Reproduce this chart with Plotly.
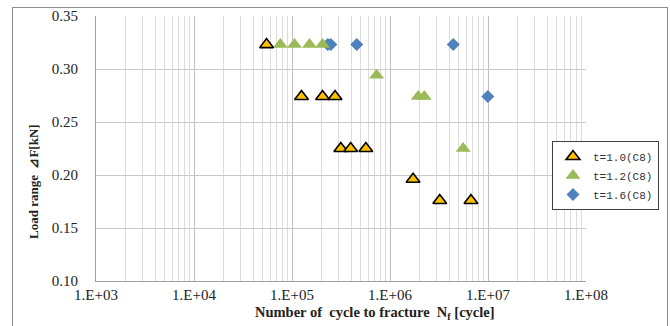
import plotly.graph_objects as go

# Data
s1_name = "t=1.0(C8)"
s1_x = [5.5e4, 1.25e5, 2.05e5, 2.75e5, 3.15e5, 3.97e5, 5.67e5, 1.72e6, 3.22e6, 6.7e6]
s1_y = [0.323, 0.274, 0.274, 0.274, 0.225, 0.225, 0.225, 0.196, 0.176, 0.176]

s2_name = "t=1.2(C8)"
s2_x = [7.6e4, 1.06e5, 1.51e5, 2.05e5, 7.3e5, 1.94e6, 2.24e6, 5.58e6]
s2_y = [0.323, 0.323, 0.323, 0.323, 0.294, 0.274, 0.274, 0.225]

s3_name = "t=1.6(C8)"
s3_x = [2.32e5, 2.49e5, 4.58e5, 4.42e6, 9.95e6]
s3_y = [0.323, 0.323, 0.323, 0.323, 0.274]

x_tickvals = [1e3, 1e4, 1e5, 1e6, 1e7, 1e8]
x_ticktext = ["1.E+03", "1.E+04", "1.E+05", "1.E+06", "1.E+07", "1.E+08"]
y_tickvals = [0.10, 0.15, 0.20, 0.25, 0.30, 0.35]
y_ticktext = ["0.10", "0.15", "0.20", "0.25", "0.30", "0.35"]

x_title = "<b>Number of  cycle to fracture  N<sub>f</sub> [cycle]</b>"
y_title = "<b>Load range  ⊿F[kN]</b>"

fig = go.Figure()
fig.add_trace(go.Scatter(x=s3_x, y=s3_y, mode="markers", name=s3_name,
                         marker=dict(symbol="diamond", size=10, color="#4F81BD",
                                     line=dict(width=0))))
fig.add_trace(go.Scatter(x=s2_x, y=s2_y, mode="markers", name=s2_name,
                         marker=dict(symbol="triangle-up", size=13, color="#9BBB59",
                                     line=dict(width=0))))
fig.add_trace(go.Scatter(x=s1_x, y=s1_y, mode="markers", name=s1_name,
                         marker=dict(symbol="triangle-up", size=12, color="#FFC000",
                                     line=dict(width=1.6, color="#000000"))))

serif = "Liberation Serif, DejaVu Serif, serif"
tick_font = dict(family=serif, size=15, color="#222222")

# plot area in pixels: left 96, right 586, top 16, bottom 281
PW, PH = 490, 265

fig.update_layout(
    width=670, height=326,
    margin=dict(l=96, r=84, t=16, b=45, autoexpand=False),
    paper_bgcolor="white", plot_bgcolor="white",
    showlegend=True,
    legend=dict(x=(552 - 96) / PW, y=1 - (141 - 16) / PH, xanchor="left", yanchor="top",
                traceorder="reversed",
                bordercolor="#404040", borderwidth=1, bgcolor="white",
                font=dict(family="Liberation Mono, DejaVu Sans Mono, monospace", size=11, color="#333333"),
                itemwidth=30, tracegroupgap=0, itemsizing="trace"),
    xaxis=dict(type="log", range=[3, 8], tickvals=x_tickvals, ticktext=x_ticktext,
               tickfont=tick_font, showgrid=True, gridcolor="#c0c0c0", gridwidth=1,
               minor=dict(showgrid=True, gridcolor="#dcdcdc", gridwidth=1, dtick="D1", ticks=""),
               showline=True, linecolor="#a0a0a0", linewidth=1, ticks="", zeroline=False),
    yaxis=dict(range=[0.10, 0.35], tickvals=y_tickvals, ticktext=y_ticktext,
               tickfont=tick_font, showgrid=True, gridcolor="#c8c8c8", gridwidth=1,
               showline=True, linecolor="#a0a0a0", linewidth=1, ticks="", zeroline=False,
               ticklabelstandoff=14),
    annotations=[
        dict(text=x_title, xref="paper", yref="paper",
             x=(375 - 96) / PW, y=(281 - 313) / PH, xanchor="center", yanchor="middle",
             showarrow=False, font=dict(family=serif, size=14.5, color="#222222")),
        dict(text=y_title, xref="paper", yref="paper", textangle=-90,
             x=(33 - 96) / PW, y=(281 - 182) / PH, xanchor="center", yanchor="middle",
             showarrow=False, font=dict(family=serif, size=13, color="#222222")),
    ],
)

post = (
    "document.body.style.margin='0';document.body.style.overflow='hidden';"
    "var b=document.createElement('div');"
    "b.style.cssText='position:absolute;left:12px;top:7px;width:654px;height:400px;"
    "border:1px solid #8c8c8c;pointer-events:none;z-index:10;';"
    "document.body.appendChild(b);"
)

fig.write_html("out.html", config={"displayModeBar": False}, post_script=post)
